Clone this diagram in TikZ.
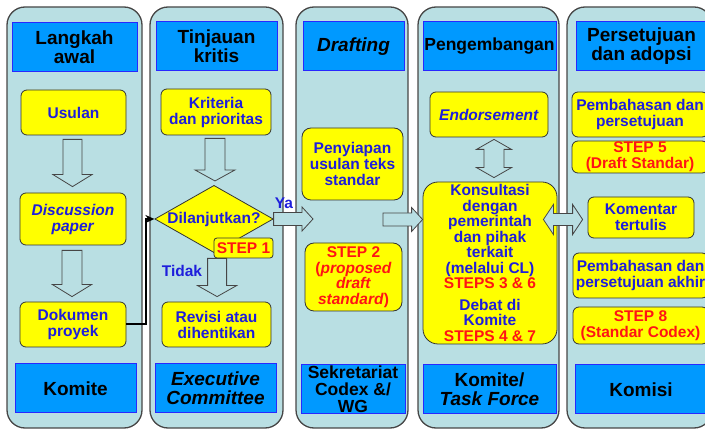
\documentclass[tikz,border=0pt]{standalone}
\usepackage{fontspec}
\setmainfont{Liberation Sans}
\usepackage{xcolor}
\usepackage{tikz}
\usetikzlibrary{arrows.meta}
\usetikzlibrary{shapes.geometric}
\usetikzlibrary{calc}
\definecolor{lanefill}{RGB}{185,223,227}
\definecolor{laneline}{RGB}{70,70,70}
\definecolor{headfill}{RGB}{0,153,255}
\definecolor{headline}{RGB}{40,40,255}
\definecolor{boxfill}{RGB}{255,255,0}
\definecolor{txtblue}{RGB}{30,30,220}
\definecolor{txtred}{RGB}{255,20,20}
% hollow block arrows: #1 start, #2 tip, #3 half shaft, #4 half head, #5 head length
\newcommand{\arrdown}[5]{%
\draw[hollow] let \p1=(#1), \p2=(#2) in
 (\x1-#3pt,\y1) -- (\x1+#3pt,\y1) -- (\x1+#3pt,\y2+#5pt) -- (\x1+#4pt,\y2+#5pt)
 -- (\x1,\y2) -- (\x1-#4pt,\y2+#5pt) -- (\x1-#3pt,\y2+#5pt) -- cycle;}
\newcommand{\arrright}[5]{%
\draw[hollow] let \p1=(#1), \p2=(#2) in
 (\x1,\y1+#3pt) -- (\x2-#5pt,\y1+#3pt) -- (\x2-#5pt,\y1+#4pt) -- (\x2,\y1)
 -- (\x2-#5pt,\y1-#4pt) -- (\x2-#5pt,\y1-#3pt) -- (\x1,\y1-#3pt) -- cycle;}
\newcommand{\arrupdown}[5]{%
\draw[hollow] let \p1=(#1), \p2=(#2) in
 (\x1,\y1) -- (\x1+#4pt,\y1-#5pt) -- (\x1+#3pt,\y1-#5pt) -- (\x1+#3pt,\y2+#5pt)
 -- (\x1+#4pt,\y2+#5pt) -- (\x1,\y2) -- (\x1-#4pt,\y2+#5pt) -- (\x1-#3pt,\y2+#5pt)
 -- (\x1-#3pt,\y1-#5pt) -- (\x1-#4pt,\y1-#5pt) -- cycle;}
\newcommand{\arrleftright}[5]{%
\draw[hollow] let \p1=(#1), \p2=(#2) in
 (\x1,\y1) -- (\x1+#5pt,\y1+#4pt) -- (\x1+#5pt,\y1+#3pt) -- (\x2-#5pt,\y1+#3pt)
 -- (\x2-#5pt,\y1+#4pt) -- (\x2,\y1) -- (\x2-#5pt,\y1-#4pt) -- (\x2-#5pt,\y1-#3pt)
 -- (\x1+#5pt,\y1-#3pt) -- (\x1+#5pt,\y1-#4pt) -- cycle;}

\begin{document}
\begin{tikzpicture}[x=1pt,y=-1pt]
\tikzstyle{every node}=[font=\bfseries\fontsize{15.5}{16}\selectfont, align=center, inner sep=0pt]
\tikzstyle{lane}=[draw=laneline, line width=1.3pt, fill=lanefill, rounded corners=18pt]
\tikzstyle{head}=[draw=headline, line width=1pt, fill=headfill, font=\bfseries\fontsize{19}{19}\selectfont]
\tikzstyle{box}=[draw=black!80, line width=0.8pt, fill=boxfill, rounded corners=6pt, text=txtblue]
\tikzstyle{redbox}=[box, text=txtred]
\tikzstyle{hollow}=[draw=laneline, line width=0.8pt, fill=lanefill]
\tikzstyle{conn}=[line width=2pt, -{Stealth[length=9pt,width=8pt]}]
\useasboundingbox (0,0) rectangle (705,430);
\clip (0,0) rectangle (705,430);
% lanes
\node[lane, minimum width=135, minimum height=421] (lane1) at (74.5,217.5) {};
\node[lane, minimum width=133, minimum height=421] (lane2) at (216.5,217.5) {};
\node[lane, minimum width=112, minimum height=421] (lane3) at (352,217.5) {};
\node[lane, minimum width=141, minimum height=421] (lane4) at (488.5,217.5) {};
\node[lane, minimum width=145, minimum height=421] (lane5) at (639.5,217.5) {};
% headers
\node[head, minimum width=125, minimum height=49] (h1) at (74.5,47.5) {Langkah\\awal};
\node[head, minimum width=121, minimum height=49] (h2) at (216.5,46.5) {Tinjauan\\kritis};
\node[head, minimum width=101, minimum height=49] (h3) at (353.5,46.5) {\textit{Drafting}};
\node[head, minimum width=133, minimum height=49, font=\bfseries\fontsize{17.5}{19}\selectfont] (h4) at (489.5,46.5) {Pengembangan};
\node[head, minimum width=131, minimum height=49] (h5) at (641.5,46.5) {Persetujuan\\dan adopsi};
% bottom
\node[head, minimum width=121, minimum height=49] (b1) at (75.5,388.5) {Komite};
\node[head, minimum width=121, minimum height=49] (b2) at (215.5,388.5) {\textit{Executive}\\\textit{Committee}};
\node[head, minimum width=104, minimum height=49, font=\bfseries\fontsize{17.5}{17}\selectfont] (b3) at (353,389) {Sekretariat\\Codex \&/\\WG};
\node[head, minimum width=133, minimum height=49] (b4) at (489.5,389.5) {Komite/\\\textit{Task Force}};
\node[head, minimum width=132, minimum height=49] (b5) at (641,389.5) {Komisi};
% column 1
\node[box, minimum width=105, minimum height=45] (usulan) at (73.5,112.5) {Usulan};
\node[box, minimum width=106, minimum height=52] (disc) at (73,219) {\textit{Discussion}\\\textit{paper}};
\node[box, minimum width=106, minimum height=45] (dok) at (73,324.5) {Dokumen\\proyek};
% column 2
\node[box, minimum width=110, minimum height=46] (krit) at (216,112) {Kriteria\\dan prioritas};
\node[draw=black!80, line width=0.8pt, fill=boxfill, diamond, aspect=1.76, text=txtblue] (dil) at (214,219) {Dilanjutkan?};
\node[redbox, rounded corners=3pt, minimum width=59, minimum height=20] (step1) at (243.5,248) {STEP 1};
\node[box, minimum width=109, minimum height=45] (revisi) at (216.5,324.5) {Revisi atau\\dihentikan};
\node[text=txtblue] (ya) at (284,203) {Ya};
\node[text=txtblue] (tidak) at (182,271) {Tidak};
% column 3
\node[box, rounded corners=9pt, minimum width=101, minimum height=72] (penyiapan) at (352.5,164) {Penyiapan\\usulan teks\\standar};
\node[redbox, rounded corners=9pt, minimum width=97, minimum height=68, font=\bfseries\fontsize{15.5}{15.5}\selectfont] (step2) at (353.5,277) {STEP 2\\(\textit{proposed}\\\textit{draft}\\\textit{standard})};
% column 4
\node[box, minimum width=118, minimum height=45] (endorse) at (489,114.5) {\textit{Endorsement}};
\node[box, rounded corners=15pt, minimum width=134, minimum height=162, font=\bfseries\fontsize{15.5}{15.5}\selectfont] (konsul) at (490,263) {Konsultasi\\dengan\\pemerintah\\dan pihak\\terkait\\(melalui CL)\\\textcolor{txtred}{STEPS 3 \& 6}\\[6pt]Debat di\\Komite\\\textcolor{txtred}{STEPS 4 \& 7}};
% column 5
\node[box, minimum width=136, minimum height=45] (pemb1) at (640,114.5) {Pembahasan dan\\persetujuan};
\node[redbox, minimum width=136, minimum height=32] (step5) at (640,157) {STEP 5\\(Draft Standar)};
\node[box, minimum width=106, minimum height=41] (koment) at (641,217.5) {Komentar\\tertulis};
\node[box, minimum width=135, minimum height=45] (pemb2) at (640.5,275.5) {Pembahasan dan\\persetujuan akhir};
\node[redbox, minimum width=135, minimum height=37] (step8) at (640.5,325.5) {STEP 8\\(Standar Codex)};
% arrows
\arrdown{$(usulan.south)+(-1,4)$}{$(disc.north)+(0,-6)$}{9.5}{19.5}{12}
\arrdown{$(disc.south)+(-1,5)$}{$(dok.north)+(0,-5)$}{10}{19.5}{12}
\arrdown{$(krit.south)+(-1,3)$}{$(dil.north)+(0,-4)$}{10}{20}{11}
\arrdown{$(step1.south west)+(3.5,0)$}{$(revisi.north)+(0,-5)$}{9.5}{19.5}{11}
\coordinate (yatip) at (313,219);
\arrright{dil.east}{yatip}{6.5}{12}{11}
\coordinate (draft) at (383,219.5);
\arrright{draft}{konsul.west}{6.5}{12}{11}
\arrupdown{$(endorse.south)+(5,2)$}{$(konsul.north)+(0,-4)$}{10}{17.5}{10}
\arrleftright{$(konsul.east |- koment.west)+(-14,2)$}{$(koment.west)+(-5,0)$}{6}{15}{10}
\draw[conn] (dok.east) -- ++(20,0) |- (dil.west);
\end{tikzpicture}
\end{document}
